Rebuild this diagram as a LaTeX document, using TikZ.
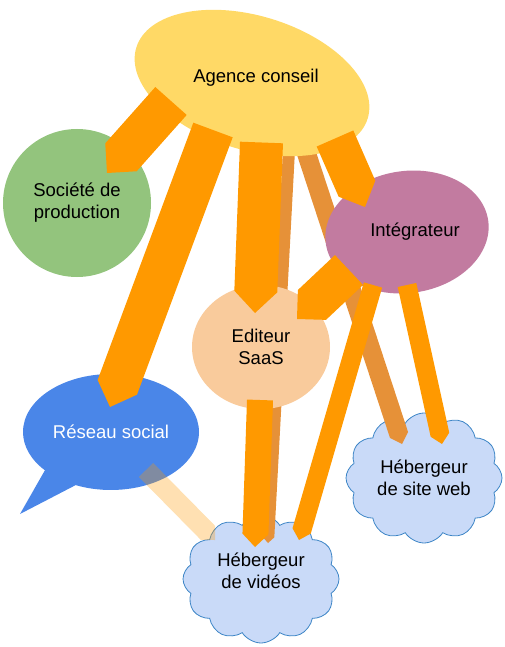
\documentclass[tikz,border=0pt]{standalone}
\usepackage{fontspec}
\setmainfont{Liberation Sans}
\usetikzlibrary{calc,shapes.geometric,shapes.symbols,shapes.callouts}

\definecolor{agence}{HTML}{FFD966}
\definecolor{societe}{HTML}{93C47D}
\definecolor{integ}{HTML}{C27BA0}
\definecolor{editeur}{HTML}{F9CB9C}
\definecolor{reseau}{HTML}{4A86E8}
\definecolor{nuage}{HTML}{C9DAF8}
\definecolor{nuagebord}{HTML}{3D85C6}
\definecolor{flux}{HTML}{FF9900}
\definecolor{fluxsombre}{HTML}{E69138}

\pgfdeclarelayer{nuages}
\pgfdeclarelayer{dessous}
\pgfsetlayers{nuages,dessous,main}

\tikzset{blob/.style={ellipse, inner sep=0pt},
    cloudbox/.style={cloud, cloud puffs=12, cloud puff arc=115, aspect=1.3,
        draw=nuagebord, line width=0.8pt, fill=nuage, inner sep=0pt}
}
\tikzstyle{fluxclair} = [fill=flux, opacity=0.3]

\newcommand{\blockarrow}[4][fill=flux]{%
    \path #3 coordinate (ba-s) #4 coordinate (ba-t);
    \path ($(ba-t)!#2!(ba-s)$) coordinate (ba-e);
    \fill [#1] ($(ba-s)!#2!90:(ba-t)$) -- ($(ba-e)!#2!90:(ba-t)$) -- (ba-t)
        -- ($(ba-e)!#2!-90:(ba-t)$) -- ($(ba-s)!#2!-90:(ba-t)$) -- cycle;
}

\begin{document}
\begin{tikzpicture}[x=1pt, y=-1pt,
    every node/.style={font=\fontsize{18.5}{22}\selectfont, align=center}]
    \useasboundingbox (0,0) rectangle (505,647);

    \node [blob, fill=agence, minimum width=242pt, minimum height=134pt, rotate=-17] (ag) at (252,83) {};
    \node (agt) at (256,78) {Agence conseil};
    \node [circle, fill=societe, minimum size=148pt] (so) at (77,203) {Société de\\production};
    \node [blob, fill=integ, minimum width=164pt, minimum height=122pt, rotate=8] (in) at (407,232) {};
    \node (int) at (415,232) {Intégrateur};
    \node [blob, fill=editeur, minimum width=138pt, minimum height=124pt] (ed) at (261,347) {Editeur\\SaaS};
    \node [ellipse callout, fill=reseau, text=white, minimum width=176pt, minimum height=116pt,
        callout absolute pointer={(20,514)}, callout pointer arc=25] (rs) at (111,432) {Réseau social};

    \begin{pgfonlayer}{nuages}
        \node [cloudbox, minimum width=156pt, minimum height=130pt] (sw) at (424,478) {Hébergeur\\de site web};
        \node [cloudbox, minimum width=156pt, minimum height=128pt,
            label={[yshift=8pt]center:Hébergeur\\de vidéos}] (vi) at (261,579) {};
    \end{pgfonlayer}

    \begin{pgfonlayer}{dessous}
        \blockarrow[fill=fluxsombre]{6pt}{($(ag)+(38.6,37)$)}{($(vi)+(7,-36)$)}
        \blockarrow[fill=fluxsombre]{9.5pt}{($(ag)+(46.8,47)$)}{($(sw)+(-22,-34)$)}
    \end{pgfonlayer}

    \blockarrow{21pt}{($(ag)+(-81,18)$)}{($(so)+(30,-30)$)}
    \blockarrow{21pt}{($(ag)+(-39,47)$)}{($(rs)+(-1,-25)$)}
    \blockarrow{21.5pt}{($(ag)+(9.5,59.5)$)}{($(ed)+(-6,-34)$)}
    \blockarrow{20pt}{($(ag)+(83,55.5)$)}{($(in)+(-42,-25)$)}
    \blockarrow{20.5pt}{($(in)+(-58,38)$)}{($(ed)+(36,-28)$)}
    \blockarrow{9.5pt}{($(in)+(-34,53)$)}{($(vi)+(38,-39)$)}
    \blockarrow{9.5pt}{($(in)+(0,53)$)}{($(sw)+(18,-34)$)}
    \blockarrow{13pt}{($(ed)+(-1,53)$)}{($(vi)+(-6,-32)$)}
    \blockarrow[fluxclair]{10pt}{($(rs)+(35,38)$)}{($(vi)+(-46,-39)$)}
\end{tikzpicture}
\end{document}
